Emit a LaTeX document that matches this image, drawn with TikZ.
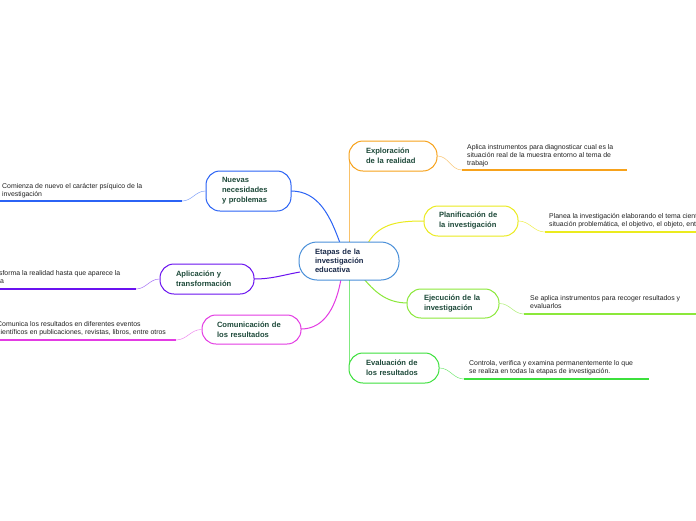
\documentclass[tikz,border=0pt]{standalone}
\usepackage{fontspec}
\setmainfont{Liberation Sans}
\usetikzlibrary{positioning}
\definecolor{corange}{HTML}{F7A21B}
\definecolor{cyellow}{HTML}{EBEB1E}
\definecolor{clgreen}{HTML}{8BE83A}
\definecolor{cgreen}{HTML}{3CE03C}
\definecolor{cblue}{HTML}{2B63F5}
\definecolor{cpurple}{HTML}{6A12F0}
\definecolor{cmagenta}{HTML}{E33BE3}
\definecolor{ccenter}{HTML}{4A90D9}
\definecolor{ttitle}{HTML}{1E4A3A}
\definecolor{tcenter}{HTML}{1A2A4A}
\definecolor{tleaf}{HTML}{222222}
\tikzset{
  topic/.style={draw, line width=1pt, fill=white, rounded corners=14pt, align=left,
    text=ttitle, font=\fontsize{7.6}{10}\selectfont\bfseries, inner ysep=0pt, inner xsep=16pt},
  central/.style={topic, draw=ccenter, text=tcenter, font=\fontsize{7.6}{9}\selectfont\bfseries, rounded corners=18pt},
  leaf/.style={anchor=north west, inner sep=0pt, align=left, text=tleaf,
    font=\fontsize{6.9}{8}\selectfont},
  mainlink/.style={line width=1pt},
  sublink/.style={line width=0.5pt},
  uline/.style={line width=1.4pt}
}
\begin{document}
\begin{tikzpicture}[x=1pt,y=-1pt]
\useasboundingbox (0,0) rectangle (696,520);
\fill[white] (0,0) rectangle (696,520);
\clip (0,0) rectangle (696,520);

% connectors from center (drawn first)
\coordinate (ctop) at (349,243);
\coordinate (cbot) at (349,279);
\draw[mainlink, corange] (ctop) to[out=90,in=-90] (349,160) coordinate (expin);
\draw[mainlink, cgreen] (cbot) to[out=-90,in=90] (349,368) coordinate (evain);
\draw[mainlink, cyellow] (368,243) to[out=60,in=180] (425,221);
\draw[mainlink, clgreen] (364,279) to[out=-50,in=180] (408,303);
\draw[mainlink, cblue] (340,243) to[out=110,in=0] (291,191);
\draw[mainlink, cpurple] (300,272) to[out=190,in=0] (254,279);
\draw[mainlink, cmagenta] (341,279) to[out=-100,in=0] (301,329);

% center
\node[central, text width=68pt, minimum height=38pt] (c) at (349,261)
  {Etapas de la\\investigación\\educativa};

% branch nodes
\node[topic, draw=corange, text width=54pt, inner xsep=17pt, minimum height=30pt] (exp) at (393,156)
  {Exploración\\de la realidad};
\node[topic, draw=cyellow, text width=64pt, inner xsep=15pt, minimum height=30pt] (pla) at (471,221)
  {Planificación de\\la investigación};
\node[topic, draw=clgreen, text width=58pt, inner xsep=17pt, minimum height=29pt] (eje) at (453,303.5)
  {Ejecución de la\\investigación};
\node[topic, draw=cgreen, text width=56pt, inner xsep=17pt, minimum height=30pt] (eva) at (394,368)
  {Evaluación de\\los resultados};
\node[topic, draw=cblue, text width=53pt, inner xsep=16pt, minimum height=40pt] (nue) at (248.5,191)
  {Nuevas\\necesidades\\y problemas};
\node[topic, draw=cpurple, text width=62pt, inner xsep=16pt, minimum height=30pt] (apl) at (207,279)
  {Aplicación y\\transformación};
\node[topic, draw=cmagenta, text width=69pt, inner xsep=15pt, minimum height=29pt] (com) at (251.5,329.5)
  {Comunicación de\\los resultados};

% leaves
\node[leaf] (lexp) at (467,144) {Aplica instrumentos para diagnosticar cual es la\\situación real de la muestra entorno al tema de\\trabajo};
\coordinate (u1s) at (462,170); \coordinate (u1e) at (627,170);
\draw[sublink, corange!60] (exp.east) to[out=0,in=180] (u1s);
\draw[uline, corange] (u1s) -- (u1e);

\node[leaf] (lpla) at (549,213) {Planea la investigación elaborando el tema científico, la\\situación problemática, el objetivo, el objeto, entre otros};
\coordinate (u2s) at (545,232); \coordinate (u2e) at (696,232);
\draw[sublink, cyellow!80] (pla.east) to[out=0,in=180] (u2s);
\draw[uline, cyellow] (u2s) -- (u2e);

\node[leaf] (leje) at (530,295) {Se aplica instrumentos para recoger resultados y\\evaluarlos};
\coordinate (u3s) at (524,314); \coordinate (u3e) at (696,314);
\draw[sublink, clgreen!70] (eje.east) to[out=0,in=180] (u3s);
\draw[uline, clgreen] (u3s) -- (u3e);

\node[leaf] (leva) at (469,360) {Controla, verifica y examina permanentemente lo que\\se realiza en todas la etapas de investigación.};
\coordinate (u4s) at (464,379); \coordinate (u4e) at (649,379);
\draw[sublink, cgreen!70] (eva.east) to[out=0,in=180] (u4s);
\draw[uline, cgreen] (u4s) -- (u4e);

\node[leaf] (lnue) at (2,183) {Comienza de nuevo el carácter psíquico de la\\investigación};
\coordinate (u5s) at (182,201); \coordinate (u5e) at (0,201);
\draw[sublink, cblue!60] (nue.west) to[out=180,in=0] (u5s);
\draw[uline, cblue] (u5s) -- (u5e);

\node[leaf] (lapl) at (-15,270) {Transforma la realidad hasta que aparece la\\nueva};
\coordinate (u6s) at (136,289); \coordinate (u6e) at (0,289);
\draw[sublink, cpurple!60] (apl.west) to[out=180,in=0] (u6s);
\draw[uline, cpurple] (u6s) -- (u6e);

\node[leaf] (lcom) at (-3,321) {Comunica los resultados en diferentes eventos\\científicos en publicaciones, revistas, libros, entre otros};
\coordinate (u7s) at (176,340); \coordinate (u7e) at (0,340);
\draw[sublink, cmagenta!60] (com.west) to[out=180,in=0] (u7s);
\draw[uline, cmagenta] (u7s) -- (u7e);
\end{tikzpicture}
\end{document}
